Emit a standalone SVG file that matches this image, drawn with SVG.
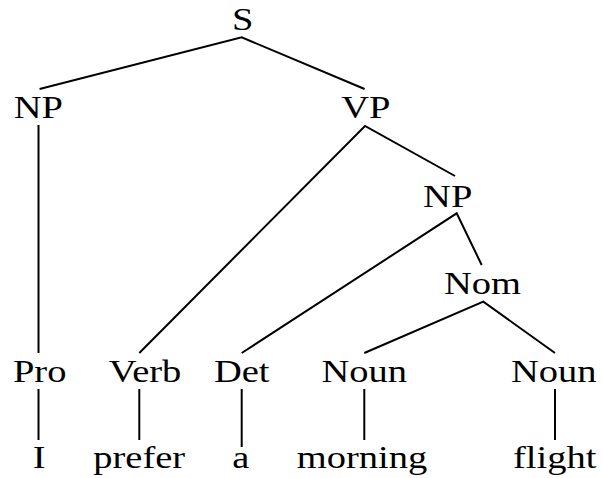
<svg xmlns="http://www.w3.org/2000/svg" width="603" height="478" viewBox="0 0 603 478">
<style>
text { font-family: "Liberation Serif", "Times New Roman", serif; font-size: 38.5px; fill: #000; text-anchor: middle; }
.edge { stroke: #000; stroke-width: 2; fill: none; stroke-linecap: butt; }
</style>
<rect width="603" height="478" fill="#fff"/>
<g id="connectors">
  <polyline class="edge" points="39.6,89 241.7,37.3 364.6,89"/>
  <line class="edge" x1="38.5" y1="125" x2="38.5" y2="353"/>
  <polyline class="edge" points="139.3,353 365,126 455,176"/>
  <polyline class="edge" points="241.7,353 456.7,213.3 481.7,265"/>
  <polyline class="edge" points="364.3,353 483.3,301.7 555,353"/>
  <line class="edge" x1="38.5" y1="389" x2="38.5" y2="440"/>
  <line class="edge" x1="139.3" y1="389" x2="139.3" y2="440"/>
  <line class="edge" x1="241.7" y1="389" x2="241.7" y2="447"/>
  <line class="edge" x1="364.3" y1="389" x2="364.3" y2="440"/>
  <line class="edge" x1="555" y1="389" x2="555" y2="440"/>
</g>
<g id="S"><text transform="translate(242.7,30) scale(1,0.84)">S</text></g>
<g id="NP1"><text transform="translate(38.3,118.3) scale(1,0.84)">NP</text></g>
<g id="VP"><text transform="translate(365.8,118.3) scale(1,0.84)">VP</text></g>
<g id="NP2"><text transform="translate(447.7,206.7) scale(1,0.84)">NP</text></g>
<g id="Nom"><text transform="translate(482.5,294.3) scale(1,0.84)">Nom</text></g>
<g id="Pro"><text transform="translate(39.7,381.7) scale(1,0.84)">Pro</text></g>
<g id="Verb"><text transform="translate(145,381.7) scale(1,0.84)">Verb</text></g>
<g id="Det"><text transform="translate(241.7,381.7) scale(1,0.84)">Det</text></g>
<g id="Noun1"><text transform="translate(364.2,381.7) scale(1,0.84)">Noun</text></g>
<g id="Noun2"><text transform="translate(553.8,381.7) scale(1,0.84)">Noun</text></g>
<g id="w-I"><text transform="translate(39.2,468.3) scale(1,0.84)">I</text></g>
<g id="w-prefer"><text transform="translate(139.2,468.3) scale(1,0.84)">prefer</text></g>
<g id="w-a"><text transform="translate(240.7,468.3) scale(1,0.84)">a</text></g>
<g id="w-morning"><text transform="translate(362,468.3) scale(1,0.84)">morning</text></g>
<g id="w-flight"><text transform="translate(554.7,468.3) scale(1,0.84)">flight</text></g>
</svg>
